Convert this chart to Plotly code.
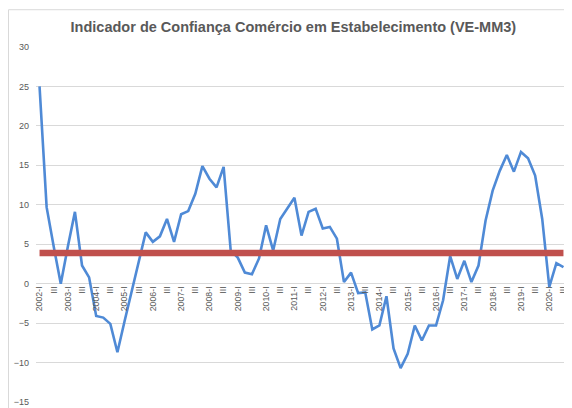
import plotly.graph_objects as go

years = list(range(2002, 2021))
quarters = ["I", "II", "III", "IV"]
categories = [f"{y}-{q}" for y in years for q in quarters][:75]

confianca = [
    25.0, 9.7, 4.7, 0.0, 4.7, 9.1, 2.3, 0.8,
    -4.1, -4.3, -5.1, -8.7, -4.8, -0.9, 2.8, 6.5,
    5.3, 6.0, 8.2, 5.3, 8.8, 9.2, 11.4, 14.9,
    13.3, 12.2, 14.8, 4.2, 3.3, 1.4, 1.2, 3.2,
    7.4, 4.2, 8.2, 9.5, 10.9, 6.1, 9.1, 9.5,
    7.0, 7.2, 5.7, 0.2, 1.4, -1.2, -1.1, -5.8,
    -5.3, -1.6, -8.2, -10.7, -8.9, -5.3, -7.2, -5.3,
    -5.3, -2.1, 3.5, 0.6, 2.9, 0.2, 2.3, 8.0,
    11.8, 14.3, 16.3, 14.2, 16.7, 15.9, 13.7, 8.2,
    -0.4, 2.6, 2.1,
]
media_valor = 3.9
media = [media_valor] * len(categories)

tick_vals = categories[::2]
tick_text = [c if c.endswith("-I") else "III" for c in tick_vals]
y_ticks = [-15, -10, -5, 0, 5, 10, 15, 20, 25, 30]

fig = go.Figure()
fig.add_trace(go.Scatter(
    x=categories, y=confianca, mode="lines",
    line=dict(color="#4F8AD6", width=2.6),
    showlegend=False, hoverinfo="skip",
))
fig.add_trace(go.Scatter(
    x=categories, y=media, mode="lines",
    line=dict(color="#C0504D", width=6.5),
    showlegend=False, hoverinfo="skip",
))

# the page body adds an 8px offset, so the figure is sized to the remaining area
fig.update_layout(
    width=564, height=400,
    margin=dict(l=28, r=5, t=39.3, b=5.7, autoexpand=False),
    paper_bgcolor="white", plot_bgcolor="white",
    font=dict(family="Liberation Sans, Arial, sans-serif", color="#595959"),
    title=dict(
        text="<b>Indicador de Confiança Comércio em Estabelecimento (VE-MM3)</b>",
        x=0.506, xanchor="center", y=0.952, yref="container", yanchor="middle",
        font=dict(size=14.5, color="#595959"),
    ),
    xaxis=dict(
        type="category", range=[-0.5, 74.5],
        tickmode="array", tickvals=tick_vals, ticktext=tick_text,
        tickangle=-90, tickfont=dict(size=8.8, color="#595959"),
        showgrid=False, showline=False, zeroline=False, ticks="",
        anchor="free", position=15 / 45, automargin=False,
    ),
    yaxis=dict(
        range=[-15, 30], tickmode="array", tickvals=y_ticks,
        tickfont=dict(size=9, color="#595959"),
        showgrid=True, gridcolor="#D9D9D9", gridwidth=1,
        zeroline=False, showline=False, ticks="",
        ticklabelstandoff=6, automargin=False,
    ),
    shapes=[dict(
        type="rect", xref="paper", yref="paper",
        x0=-0.0518, x1=1.0075, y0=-0.03, y1=1.105,
        line=dict(color="#D9D9D9", width=1), fillcolor="rgba(0,0,0,0)",
        layer="below",
    )],
)

fig.write_html("out.html")
